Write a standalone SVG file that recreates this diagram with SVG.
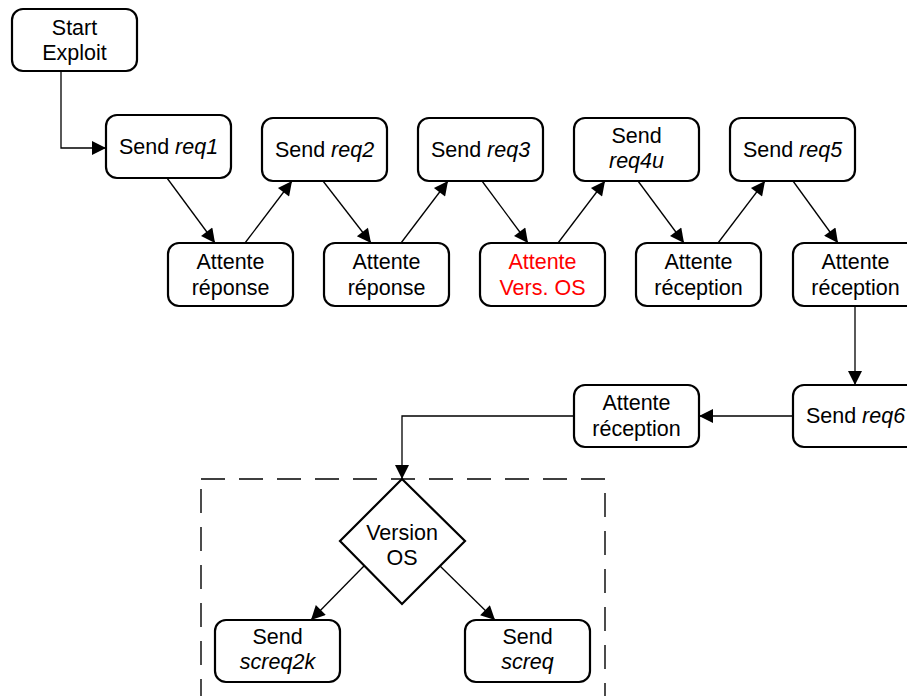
<svg xmlns="http://www.w3.org/2000/svg" width="907" height="696" viewBox="0 0 907 696">
<defs>
<marker id="ah" viewBox="0 0 10 10" refX="10" refY="5" markerWidth="18" markerHeight="14" markerUnits="userSpaceOnUse" orient="auto">
<path d="M0,0 L10,5 L0,10 z" fill="#000"/>
</marker>
<style>
.box{fill:#fff;stroke:#000;stroke-width:2.2}
.t{font-family:"Liberation Sans",Arial,sans-serif;font-size:21.5px;fill:#000;text-anchor:middle}
.red{fill:#f00}
.i{font-style:italic}
.c{fill:none;stroke:#000;stroke-width:1.3;marker-end:url(#ah)}
</style>
</defs>
<rect width="907" height="696" fill="#fff"/>
<rect x="201" y="479" width="404" height="240" fill="none" stroke="#000" stroke-width="1.4" stroke-dasharray="24,14"/>
<g id="connectors">
<path class="c" d="M61,71 V148 H106"/>
<path class="c" d="M167,178 L215,243"/>
<path class="c" d="M245,243 L292,181"/>
<path class="c" d="M323,181 L371,243"/>
<path class="c" d="M401,243 L448,181"/>
<path class="c" d="M482,181 L528,243"/>
<path class="c" d="M558,243 L605,181"/>
<path class="c" d="M638,181 L684,243"/>
<path class="c" d="M718,243 L765,181"/>
<path class="c" d="M793,181 L838,243"/>
<path class="c" d="M855,306 V385"/>
<path class="c" d="M793,416 H699"/>
<path class="c" d="M573,416 H402 V479"/>
<path class="c" d="M364,566 L311,620"/>
<path class="c" d="M440,566 L495,620"/>
</g>
<g id="start"><rect class="box" x="12" y="9" width="125" height="62" rx="11"/><text class="t" x="74.5" y="35">Start</text><text class="t" x="74.5" y="60">Exploit</text></g>
<g id="req1"><rect class="box" x="106" y="115" width="125" height="63" rx="11"/><text class="t" x="168.5" y="154">Send <tspan class="i">req1</tspan></text></g>
<g id="req2"><rect class="box" x="262" y="118" width="125" height="63" rx="11"/><text class="t" x="324.5" y="157">Send <tspan class="i">req2</tspan></text></g>
<g id="req3"><rect class="box" x="418" y="118" width="125" height="63" rx="11"/><text class="t" x="480.5" y="157">Send <tspan class="i">req3</tspan></text></g>
<g id="req4u"><rect class="box" x="574" y="118" width="125" height="63" rx="11"/><text class="t" x="636.5" y="143">Send</text><text class="t i" x="636.5" y="168">req4u</text></g>
<g id="req5"><rect class="box" x="730" y="118" width="125" height="63" rx="11"/><text class="t" x="792.5" y="157">Send <tspan class="i">req5</tspan></text></g>
<g id="att1"><rect class="box" x="168" y="243" width="125" height="63" rx="11"/><text class="t" x="230.5" y="269">Attente</text><text class="t" x="230.5" y="295">réponse</text></g>
<g id="att2"><rect class="box" x="324" y="243" width="125" height="63" rx="11"/><text class="t" x="386.5" y="269">Attente</text><text class="t" x="386.5" y="295">réponse</text></g>
<g id="att3"><rect class="box" x="480" y="243" width="125" height="63" rx="11"/><text class="t red" x="542.5" y="269">Attente</text><text class="t red" x="542.5" y="295">Vers. OS</text></g>
<g id="att4"><rect class="box" x="636" y="243" width="125" height="63" rx="11"/><text class="t" x="698.5" y="269">Attente</text><text class="t" x="698.5" y="295">réception</text></g>
<g id="att5"><rect class="box" x="793" y="243" width="125" height="63" rx="11"/><text class="t" x="855.5" y="269">Attente</text><text class="t" x="855.5" y="295">réception</text></g>
<g id="req6"><rect class="box" x="793" y="385" width="125" height="62" rx="11"/><text class="t" x="855.5" y="423">Send <tspan class="i">req6</tspan></text></g>
<g id="att6"><rect class="box" x="574" y="385" width="125" height="62" rx="11"/><text class="t" x="636.5" y="410">Attente</text><text class="t" x="636.5" y="436">réception</text></g>
<g id="version"><path class="box" d="M402,479 L465,541 L402,604 L340,541 Z"/><text class="t" x="402" y="540">Version</text><text class="t" x="402" y="565">OS</text></g>
<g id="screq2k"><rect class="box" x="215" y="620" width="125" height="62" rx="11"/><text class="t" x="277.5" y="644">Send</text><text class="t i" x="277.5" y="669">screq2k</text></g>
<g id="screq"><rect class="box" x="465" y="620" width="125" height="62" rx="11"/><text class="t" x="527.5" y="644">Send</text><text class="t i" x="527.5" y="669">screq</text></g>
</svg>
